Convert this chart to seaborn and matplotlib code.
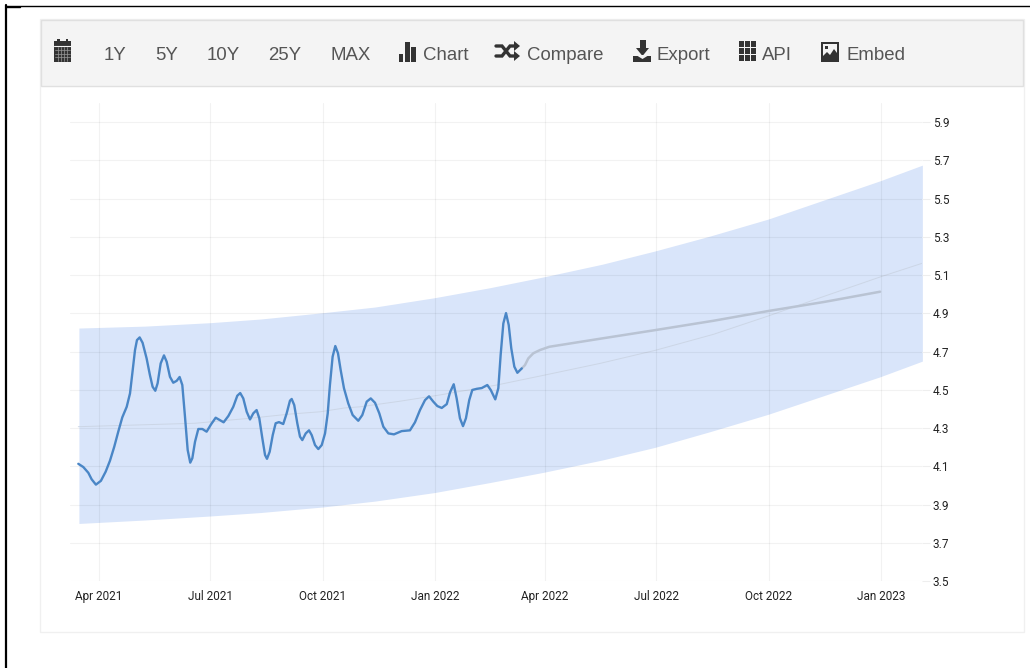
"""
Forecast chart with toolbar: weekly series, trend, forecast and confidence band.
"""

import pandas as pd
import matplotlib
matplotlib.use("Agg")
import matplotlib.pyplot as plt
import seaborn as sns
from matplotlib.patches import Rectangle, Polygon

# Data, x values are days counted from 1 Apr 2021
ORIGIN = pd.Timestamp('2021-04-01')

series_days = [-16.9, -12.8, -8.7, -6, -2.5, 1.6, 5.5, 9, 12.5, 15.8, 19.1, 22.7, 25.4, 27.3, 29.5, 31.1,
               33.3, 35.7, 39, 41.7, 43.9, 46.1, 48, 50.5, 53.2, 55.4, 58.1, 60.8, 63.6, 66, 68.2, 70.4,
               72.6, 74.7, 76.4, 78.6, 81.3, 84.6, 88.1, 91.7, 95.5, 98.8, 102, 105.9, 109.9, 113.2,
               115.6, 118.1, 120.9, 123.6, 126.3, 129, 131.2, 133.7, 135.9, 137.5, 139.7, 142.2, 144.6,
               147.3, 150.8, 153.6, 156.3, 157.7, 159.8, 162.3, 164.5, 166.4, 169.2, 171.9, 174.1, 176.8,
               179.5, 182.3, 185, 187.2, 189, 191.2, 193.4, 195.6, 197.8, 200.5, 204, 207.6, 212.2, 215.5,
               219.1, 222.4, 225.9, 229.4, 232.7, 236.8, 241.4, 247.7, 254.5, 258.6, 262.7, 266.8, 270.1,
               273.6, 276.9, 280.5, 284.6, 287.3, 290.3, 292.7, 295.4, 297.9, 300.3, 303, 305.5, 309.1,
               313.2, 317.8, 320.6, 324.3, 326.8, 328.7, 330.9, 333.1, 335.3, 337.4, 339.9, 342.4, 346]
series_vals = [4.113, 4.096, 4.066, 4.032, 4.004, 4.024, 4.072, 4.129, 4.202, 4.281, 4.356, 4.411, 4.481,
               4.586, 4.708, 4.760, 4.774, 4.746, 4.664, 4.577, 4.516, 4.495, 4.534, 4.638, 4.680, 4.647,
               4.568, 4.537, 4.547, 4.567, 4.525, 4.359, 4.185, 4.119, 4.142, 4.228, 4.295, 4.295, 4.281,
               4.319, 4.354, 4.342, 4.330, 4.363, 4.411, 4.469, 4.483, 4.455, 4.385, 4.345, 4.377, 4.394,
               4.351, 4.246, 4.159, 4.139, 4.176, 4.263, 4.325, 4.331, 4.321, 4.377, 4.443, 4.452, 4.420,
               4.325, 4.255, 4.237, 4.272, 4.288, 4.263, 4.211, 4.190, 4.211, 4.272, 4.377, 4.525, 4.673,
               4.729, 4.691, 4.603, 4.508, 4.429, 4.368, 4.338, 4.368, 4.438, 4.455, 4.432, 4.377, 4.307,
               4.272, 4.267, 4.284, 4.288, 4.330, 4.394, 4.446, 4.466, 4.438, 4.415, 4.405, 4.425, 4.487,
               4.529, 4.455, 4.351, 4.310, 4.351, 4.446, 4.499, 4.505, 4.509, 4.525, 4.499, 4.450, 4.508,
               4.682, 4.847, 4.901, 4.839, 4.717, 4.621, 4.589, 4.612]

forecast_days = [346, 348.6, 351.3, 355.4, 360.9, 368.5, 410, 455, 502.8, 547.7, 593.9, 639.2]
forecast_vals = [4.612, 4.629, 4.664, 4.691, 4.708, 4.725, 4.767, 4.812, 4.861, 4.912, 4.960, 5.013]

trend_days = [-16.9, 78.6, 125, 156, 181, 201, 213.6, 246, 279, 325.5, 361, 410, 455, 502.8, 547.7, 593.9,
              639.2, 673.3]
trend_vals = [4.307, 4.325, 4.352, 4.373, 4.385, 4.405, 4.411, 4.44, 4.473, 4.525, 4.572, 4.638, 4.706,
              4.79, 4.886, 4.99, 5.09, 5.161]

band_days = [-16.4, 37.6, 91, 132, 183, 226, 275, 320, 365, 412, 455, 500, 547.7, 593, 639.2, 673.8]
band_upper = [4.823, 4.833, 4.851, 4.870, 4.903, 4.933, 4.982, 5.034, 5.092, 5.157, 5.226, 5.304, 5.393,
              5.492, 5.593, 5.675]
band_lower = [3.801, 3.819, 3.840, 3.858, 3.887, 3.918, 3.963, 4.015, 4.070, 4.133, 4.199, 4.281, 4.372,
              4.469, 4.568, 4.650]

y_ticks = [3.5, 3.7, 3.9, 4.1, 4.3, 4.5, 4.7, 4.9, 5.1, 5.3, 5.5, 5.7, 5.9]
x_ticks = ['2021-04-01', '2021-07-01', '2021-10-01', '2022-01-01', '2022-04-01', '2022-07-01',
           '2022-10-01', '2023-01-01']
x_labels = ['Apr 2021', 'Jul 2021', 'Oct 2021', 'Jan 2022', 'Apr 2022', 'Jul 2022', 'Oct 2022', 'Jan 2023']

toolbar_labels = ['1Y', '5Y', '10Y', '25Y', 'MAX', 'Chart', 'Compare', 'Export', 'API', 'Embed']
toolbar_x = [104, 155, 207, 268, 330, 423, 527, 656, 762, 846]

ICON = '#333333'
TEXT = '#555555'
GRID = '#000000'


def to_dates(days):
    return ORIGIN + pd.to_timedelta(days, unit='D')


def draw_icons(ov):
    # calendar
    ov.add_patch(Rectangle((54, 41), 17, 21, color=ICON, lw=0))
    ov.add_patch(Rectangle((57, 39), 2.5, 4, color=ICON, lw=0))
    ov.add_patch(Rectangle((65.5, 39), 2.5, 4, color=ICON, lw=0))
    ov.plot([54, 71], [46, 46], color='#f4f4f4', lw=0.8)
    for yy in (50, 53.5, 57):
        ov.plot([55, 70], [yy, yy], color='#999999', lw=0.5)
    for xx in (58, 61, 64, 67):
        ov.plot([xx, xx], [47, 61], color='#999999', lw=0.5)

    # bars
    for left, top, w in ((399, 54, 4), (405, 42, 4.5), (411, 47, 5)):
        ov.add_patch(Rectangle((left, top), w, 62 - top, color=ICON, lw=0))

    # shuffle
    ov.plot([496, 502, 510, 515], [46, 46, 56, 56], color=ICON, lw=2.4, solid_joinstyle='miter')
    ov.plot([496, 502, 510, 515], [56, 56, 46, 46], color=ICON, lw=2.4, solid_joinstyle='miter')
    ov.add_patch(Polygon([(514, 41), (520, 46), (514, 51)], color=ICON, lw=0))
    ov.add_patch(Polygon([(514, 51), (520, 56), (514, 61)], color=ICON, lw=0))

    # export
    ov.add_patch(Rectangle((639.5, 40), 6, 9, color=ICON, lw=0))
    ov.add_patch(Polygon([(636, 48), (649, 48), (642.5, 56)], color=ICON, lw=0))
    ov.add_patch(Rectangle((633, 56), 18, 6, color=ICON, lw=0))
    ov.add_patch(Polygon([(636, 55), (649, 55), (642.5, 59)], color='#f4f4f4', lw=0))

    # api grid
    for cx in (739, 745, 751):
        for cy in (41, 48, 55):
            ov.add_patch(Rectangle((cx, cy), 4.6, 5.6, color=ICON, lw=0))

    # embed
    ov.add_patch(Rectangle((821, 42), 18, 20, color=ICON, lw=0))
    ov.add_patch(Rectangle((823, 44), 14, 16, color='#f4f4f4', lw=0))
    ov.add_patch(Polygon([(823, 60), (823, 56), (827, 52), (830, 55), (834, 49), (837, 53), (837, 60)],
                         color=ICON, lw=0))
    ov.add_patch(Rectangle((825, 46), 3, 3, color=ICON, lw=0))


def main():
    sns.set_theme(style='white')
    plt.rcParams['font.family'] = ['Roboto', 'DejaVu Sans']

    fig = plt.figure(figsize=(10.3, 6.68), dpi=100, facecolor='white')

    # page furniture in pixel coordinates
    ov = fig.add_axes([0, 0, 1, 1], zorder=0)
    ov.set_xlim(0, 1030)
    ov.set_ylim(668, 0)
    ov.axis('off')
    ov.add_patch(Rectangle((39.5, 18.5), 984, 613, fc='white', ec='#f0f0f0', lw=1))
    ov.add_patch(Rectangle((40.5, 19.5), 982, 66, fc='#f4f4f4', ec='#e0e0e0', lw=1))
    ov.plot([6, 1030], [5.5, 5.5], color='black', lw=1)
    ov.plot([6, 20], [6.5, 6.5], color='black', lw=1)
    ov.plot([6, 6], [5, 668], color='black', lw=1.6)
    for label, xx in zip(toolbar_labels, toolbar_x):
        ov.text(xx, 60, label, ha='left', va='baseline', fontsize=13.4, color=TEXT,
                family=['Liberation Sans', 'DejaVu Sans'])
    draw_icons(ov)

    # chart
    ax = fig.add_axes([70 / 1030, (668 - 581) / 668, 852 / 1030, 478 / 668], zorder=1)
    ax.patch.set_alpha(0)
    ax.fill_between(to_dates(band_days), band_lower, band_upper, color='#d9e5fa', lw=0, zorder=1)
    sns.lineplot(x=to_dates(trend_days), y=trend_vals, ax=ax, color='#ccd6e6', linewidth=0.7, zorder=2)
    sns.lineplot(x=to_dates(forecast_days), y=forecast_vals, ax=ax, color='#b9c3d3', linewidth=1.8, zorder=3)
    sns.lineplot(x=to_dates(series_days), y=series_vals, ax=ax, color='#4a86c6', linewidth=1.7, zorder=4)

    ax.set_xlim(ORIGIN - pd.Timedelta(days=23.7), ORIGIN + pd.Timedelta(days=673.5))
    ax.set_ylim(3.5, 6.0)
    ax.set_xticks(pd.to_datetime(x_ticks))
    ax.set_xticklabels(x_labels)
    ax.set_yticks(y_ticks)
    ax.set_yticklabels([f'{v:.1f}' for v in y_ticks])
    ax.yaxis.tick_right()
    ax.set_xlabel('')
    ax.set_ylabel('')
    ax.grid(True, color=GRID, alpha=0.05, lw=0.8, zorder=2.5)
    ax.set_axisbelow(False)
    ax.tick_params(axis='x', length=3.6, width=0.8, color='#eeeeee', labelsize=8.5, labelcolor='#222222', pad=3)
    ax.tick_params(axis='y', length=5.8, width=0.8, color='#eeeeee', labelsize=8.5, labelcolor='#222222', pad=2)
    sns.despine(ax=ax, left=True, right=True, top=True, bottom=True)

    fig.savefig('out.png', dpi=100)


if __name__ == "__main__":
    main()
